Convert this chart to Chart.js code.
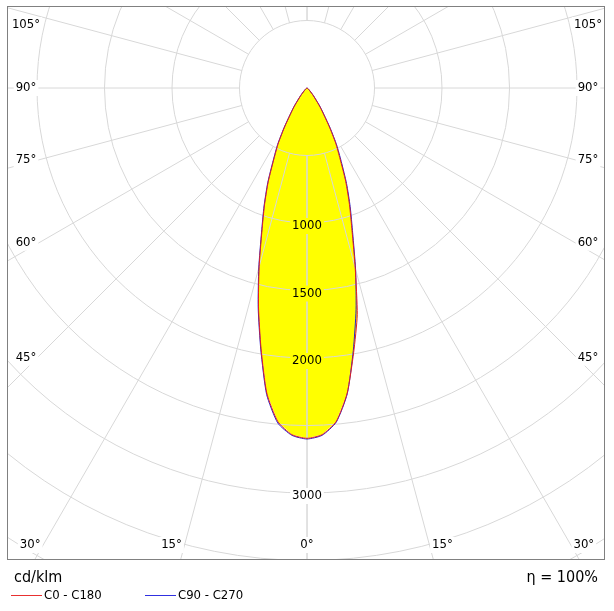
<!DOCTYPE html>
<html>
<head>
<meta charset="utf-8">
<script src="https://cdn.jsdelivr.net/npm/chart.js@4"></script>
<style>
  html, body { margin: 0; padding: 0; background: #fff; }
  #wrap { width: 614px; height: 611px; }
</style>
</head>
<body>
<div id="wrap"><canvas id="c" width="614" height="611"></canvas></div>
<script>
// gamma angles, negative = left half (C180 / C270), positive = right half (C0 / C90)
const angles = [-90, -80, -70, -60, -50, -45, -40, -35, -32.5, -30, -27.5, -25, -22.5, -20, -17.5, -15, -12.5, -10, -7.5, -5, -2.5,
  0, 2.5, 5, 7.5, 10, 12.5, 15, 17.5, 20, 22.5, 25, 27.5, 30, 32.5, 35, 40, 45, 50, 60, 70, 80, 90];
const c0c180 = [0, 1, 2, 5, 15, 30, 70, 160, 225, 330, 460, 580, 750, 920, 1110, 1370, 1660, 1960, 2280, 2480, 2570,
  2595, 2570, 2480, 2280, 1990, 1720, 1380, 1110, 920, 750, 580, 460, 330, 225, 160, 70, 30, 15, 5, 2, 1, 0];
const c90c270 = [0, 1, 2, 5, 16, 32, 74, 168, 232, 340, 470, 592, 760, 930, 1120, 1380, 1670, 1970, 2290, 2490, 2575,
  2600, 2575, 2485, 2285, 1975, 1680, 1390, 1125, 935, 765, 600, 475, 345, 235, 170, 75, 32, 16, 5, 2, 1, 0];
const rings = [500, 1000, 1500, 2000, 2500, 3000, 3500, 4000, 4500, 5000];
const ringLabels = [1000, 1500, 2000, 3000];
const spokeAngles = [0, 15, 30, 45, 60, 75, 90, 105, 120, 135, 150, 165, 180];
const sideLabels = [105, 90, 75, 60, 45];
const bottomLabels = [30, 15, 0];

const FONT = "'DejaVu Sans Condensed', 'DejaVu Sans', sans-serif";

function toXY(angs, vals) {
  return angs.map((a, i) => {
    const t = a * Math.PI / 180;
    return { x: vals[i] * Math.sin(t), y: -vals[i] * Math.cos(t) };
  });
}

const polarGrid = {
  id: 'polarGrid',
  beforeDatasetsDraw(chart) {
    const { ctx, chartArea: ca, scales: { x, y } } = chart;
    const cx = x.getPixelForValue(0), cy = y.getPixelForValue(0);
    const k = x.getPixelForValue(1000) - cx; // px per 1000 cd
    ctx.save();
    ctx.beginPath();
    ctx.rect(ca.left, ca.top, ca.right - ca.left, ca.bottom - ca.top);
    ctx.clip();

    // yellow beam fill
    const pts = chart.getDatasetMeta(0).data;
    ctx.beginPath();
    pts.forEach((p, i) => i ? ctx.lineTo(p.x, p.y) : ctx.moveTo(p.x, p.y));
    ctx.closePath();
    ctx.fillStyle = '#ffff00';
    ctx.fill();

    // rings and spokes
    ctx.strokeStyle = '#d8d8d8';
    ctx.lineWidth = 1;
    rings.forEach(r => {
      ctx.beginPath();
      ctx.arc(cx, cy, r / 1000 * k, 0, Math.PI * 2);
      ctx.stroke();
    });
    const r0 = rings[0] / 1000 * k;
    spokeAngles.forEach(a => {
      [1, -1].forEach(s => {
        const t = a * Math.PI / 180;
        ctx.beginPath();
        ctx.moveTo(cx + s * r0 * Math.sin(t), cy + r0 * Math.cos(t));
        ctx.lineTo(cx + s * 2000 * Math.sin(t), cy + 2000 * Math.cos(t));
        ctx.stroke();
      });
    });

    ctx.font = '13px ' + FONT;
    ctx.textAlign = 'center';
    ctx.textBaseline = 'middle';
    const label = (txt, px, py, bg) => {
      const w = ctx.measureText(txt).width + 4;
      ctx.fillStyle = bg;
      ctx.fillRect(px - w / 2, py - 8, w, 16);
      ctx.fillStyle = '#000';
      ctx.fillText(txt, px, py);
    };
    ringLabels.forEach(r => {
      label(String(r), cx, cy + r / 1000 * k + 3, r <= 2500 ? '#ffff00' : '#fff');
    });
    const lx = ca.left + 19;
    sideLabels.forEach(a => {
      const t = a * Math.PI / 180;
      let py = cy + (cx - lx) / Math.tan(t) - (a < 90 ? (90 - a) / 4 : 0);
      py = Math.max(py, ca.top + 19);
      label(a + '°', lx, py, '#fff');
      label(a + '°', 2 * cx - lx, py, '#fff');
    });
    const by = ca.bottom - 15;
    bottomLabels.forEach(a => {
      const t = a * Math.PI / 180;
      let dx = (by - cy) * Math.tan(t) + (a ? 13 : 0);
      dx = Math.min(dx, cx - lx);
      label(a + '°', cx - dx, by, '#fff');
      label(a + '°', cx + dx, by, '#fff');
    });
    ctx.restore();
  },
  afterDraw(chart) {
    const { ctx, chartArea: ca } = chart;
    ctx.save();
    ctx.strokeStyle = '#808080';
    ctx.lineWidth = 1;
    ctx.strokeRect(ca.left + 0.5, ca.top + 0.5, ca.right - ca.left - 1, ca.bottom - ca.top - 1);
    ctx.fillStyle = '#000';
    ctx.textBaseline = 'middle';
    ctx.font = '16px ' + FONT;
    ctx.textAlign = 'left';
    ctx.fillText('cd/klm', 14, 578);
    ctx.textAlign = 'right';
    ctx.fillText('η = 100%', 598, 578);
    ctx.font = '13px ' + FONT;
    ctx.textAlign = 'left';
    [['C0 - C180', '#e83030', 11], ['C90 - C270', '#3030e0', 145]].forEach(([t, c, x0]) => {
      ctx.strokeStyle = c;
      ctx.beginPath();
      ctx.moveTo(x0, 595.5);
      ctx.lineTo(x0 + 31, 595.5);
      ctx.stroke();
      ctx.fillText(t, x0 + 33, 596);
    });
    ctx.restore();
  }
};

const PX = 0.135; // px per cd
new Chart(document.getElementById('c'), {
  type: 'scatter',
  data: {
    datasets: [
      { label: 'C0 - C180', data: toXY(angles, c0c180), showLine: true, borderColor: '#e02020', borderWidth: 1, pointRadius: 0, tension: 0.2 },
      { label: 'C90 - C270', data: toXY(angles, c90c270), showLine: true, borderColor: '#2020d0', borderWidth: 1, pointRadius: 0, tension: 0.2 }
    ]
  },
  options: {
    responsive: false,
    animation: false,
    layout: { padding: { left: 7, right: 9, top: 6, bottom: 51 } },
    scales: {
      x: { display: false, min: -300 / PX, max: 298 / PX },
      y: { display: false, min: -472 / PX, max: 82 / PX }
    },
    plugins: { legend: { display: false }, tooltip: { enabled: false } }
  },
  plugins: [polarGrid]
});
</script>
</body>
</html>
